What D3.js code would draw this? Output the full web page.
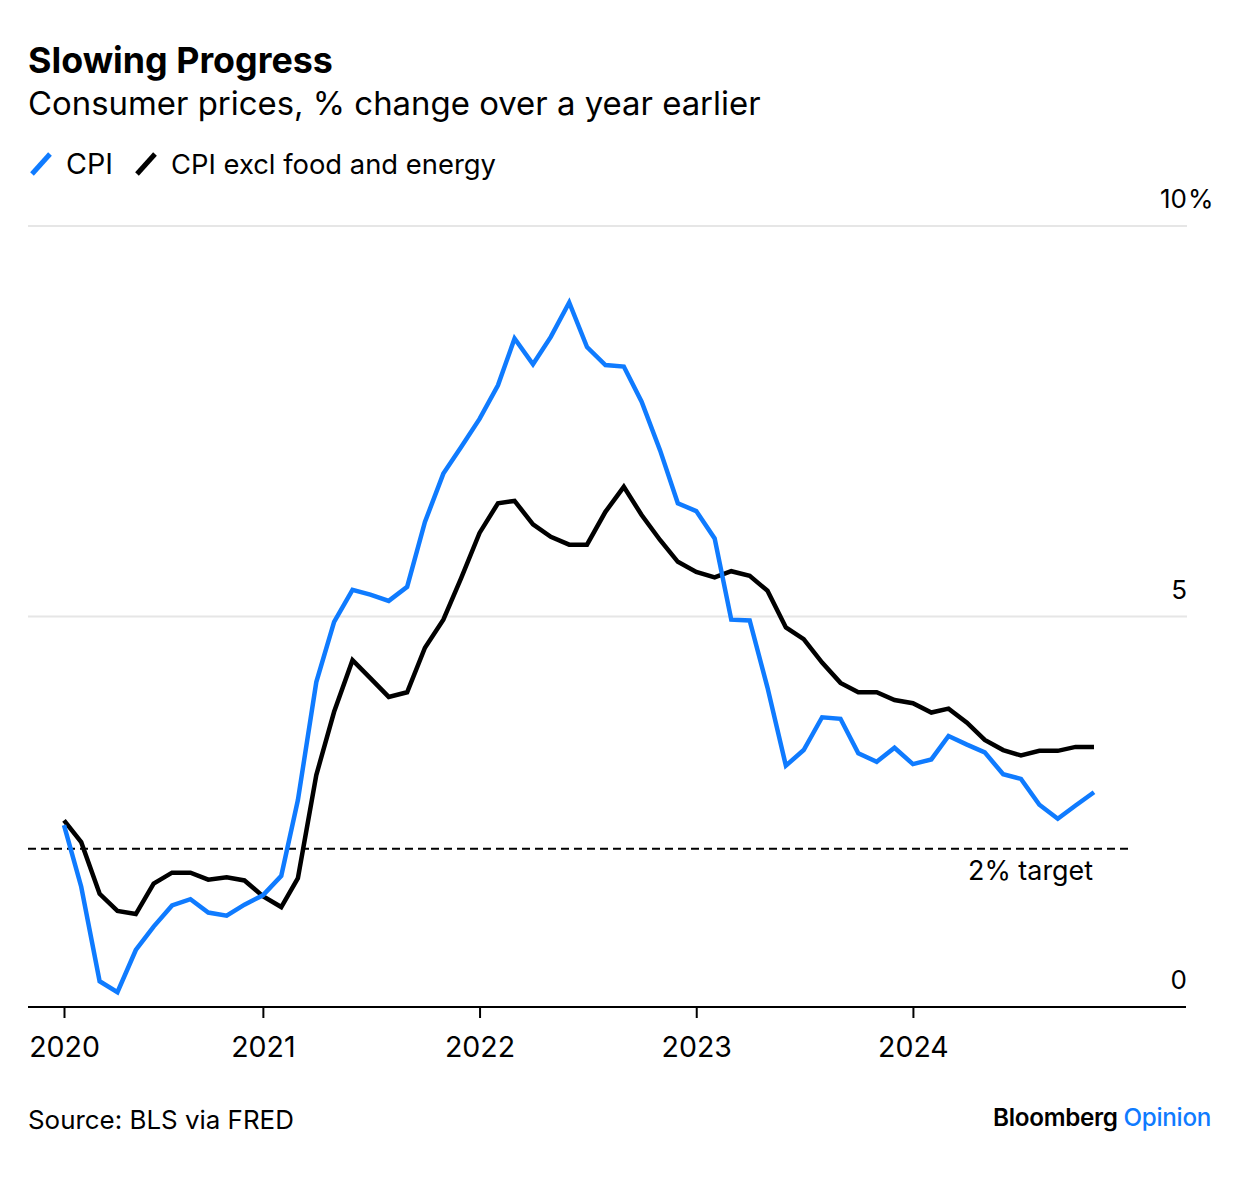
<!DOCTYPE html>
<html><head><meta charset="utf-8">
<script src="https://cdn.jsdelivr.net/npm/d3@7"></script>
<style>
body{margin:0;background:#fff;}
svg{display:block;font-family:Inter,"Liberation Sans",Arial,sans-serif;}
</style></head>
<body><svg id="c" width="1240" height="1178"></svg>
<script>
const months = d3.timeMonths(new Date(2020,1,1), new Date(2024,11,1)); // Feb 2020 - Nov 2024
const cpi = [2.33,1.54,0.33,0.19,0.73,1.03,1.30,1.38,1.21,1.17,1.31,
 1.43,1.68,2.65,4.16,4.93,5.34,5.28,5.20,5.38,6.21,6.83,7.17,
 7.53,7.96,8.56,8.23,8.58,9.02,8.45,8.22,8.20,7.75,7.13,6.45,
 6.35,6.00,4.96,4.95,4.09,3.09,3.29,3.71,3.69,3.25,3.14,3.32,
 3.11,3.17,3.47,3.36,3.26,2.98,2.92,2.59,2.41,2.58,2.75];
const core = [2.39,2.11,1.45,1.23,1.19,1.58,1.72,1.72,1.63,1.66,1.62,
 1.42,1.28,1.65,2.97,3.78,4.44,4.21,3.97,4.03,4.60,4.96,5.49,
 6.07,6.45,6.48,6.18,6.02,5.92,5.92,6.34,6.66,6.30,5.98,5.70,
 5.57,5.50,5.58,5.52,5.33,4.86,4.71,4.41,4.15,4.03,4.03,3.93,
 3.89,3.77,3.82,3.64,3.42,3.29,3.22,3.28,3.28,3.33,3.33];
const yTicks = [0,5,10];
const xTickDates = [new Date(2020,1,1),new Date(2021,0,1),new Date(2022,0,1),new Date(2023,0,1),new Date(2024,0,1)];
const xTickLabels = ["2020","2021","2022","2023","2024"];
const target = 2;
const blue = "#0f7bff";

const svg = d3.select("#c");
const x = d3.scaleTime().domain([new Date(2020,1,1), new Date(2025,3,5)]).range([64,1186]);
const y = d3.scaleLinear().domain([0,10]).range([1007,226]);

// fit text to a target width (layout helper)
function fit(sel, w){ const n=sel.node(); const cur=n.getComputedTextLength(); const fs=parseFloat(sel.attr("font-size")); sel.attr("font-size", fs*w/cur); return sel; }

// title etc
fit(svg.append("text").attr("x",28).attr("y",73).attr("font-size",31).attr("font-weight","bold").text("Slowing Progress"),305);
fit(svg.append("text").attr("x",28).attr("y",115).attr("font-size",29).text("Consumer prices, % change over a year earlier"),733);

// legend
const leg = [{n:"CPI",c:blue,x:30,w:47},{n:"CPI excl food and energy",c:"#000",x:135,w:325}];
leg.forEach(l=>{
  svg.append("line").attr("x1",l.x+2).attr("y1",174).attr("x2",l.x+20).attr("y2",154).attr("stroke",l.c).attr("stroke-width",5);
  fit(svg.append("text").attr("x",l.x+36).attr("y",174).attr("font-size",26).text(l.n),l.w);
});

// gridlines
svg.append("g").selectAll("line").data(yTicks.filter(d=>d>0)).join("line")
 .attr("x1",28).attr("x2",1187).attr("y1",d=>y(d)).attr("y2",d=>y(d)).attr("stroke","#e6e6e6").attr("stroke-width",2);
// y labels
const yl = svg.append("g");
yTicks.forEach(d=>{
  yl.append("text").attr("x",1187).attr("y",y(d)-18).attr("text-anchor","end").attr("font-size",26).text(d);
  if(d===10) yl.append("text").attr("x",1188).attr("y",y(d)-18).attr("font-size",26).text("%");
});

// x axis
const xa = d3.axisBottom(x).tickValues(xTickDates).tickFormat((d,i)=>xTickLabels[i]).tickSize(11).tickPadding(19);
const gx = svg.append("g").attr("transform",`translate(0,${y(0)})`).call(xa);
gx.select(".domain").remove();
gx.selectAll(".tick line").attr("stroke","#000").attr("stroke-width",2);
gx.selectAll(".tick text").attr("font-size",28.5).attr("fill","#000").attr("font-family","Inter, Liberation Sans, Arial, sans-serif");
svg.append("line").attr("x1",28).attr("x2",1186).attr("y1",y(0)).attr("y2",y(0)).attr("stroke","#000").attr("stroke-width",2);

// target
svg.append("line").attr("x1",28).attr("x2",1128).attr("y1",y(target)-2).attr("y2",y(target)-2)
 .attr("stroke","#000").attr("stroke-width",2).attr("stroke-dasharray","8,5");
fit(svg.append("text").attr("x",1093).attr("y",880).attr("text-anchor","end").attr("font-size",26).text("2% target"),125);

// lines
const line = d3.line().x((d,i)=>x(months[i])).y(d=>y(d));
svg.append("path").datum(core).attr("d",line).attr("fill","none").attr("stroke","#000").attr("stroke-width",4.5).attr("stroke-linejoin","miter");
svg.append("path").datum(cpi).attr("d",line).attr("fill","none").attr("stroke",blue).attr("stroke-width",4.5).attr("stroke-linejoin","miter");

// footer
fit(svg.append("text").attr("x",28).attr("y",1129).attr("font-size",24).text("Source: BLS via FRED"),266);
const lg = svg.append("text").attr("x",1211).attr("y",1126).attr("text-anchor","end").attr("font-size",24).attr("font-weight","600").attr("letter-spacing",-0.3);
lg.append("tspan").attr("fill","#000").text("Bloomberg ");
lg.append("tspan").attr("fill",blue).attr("font-weight","500").text("Opinion");
fit(lg,218);
</script></body></html>
